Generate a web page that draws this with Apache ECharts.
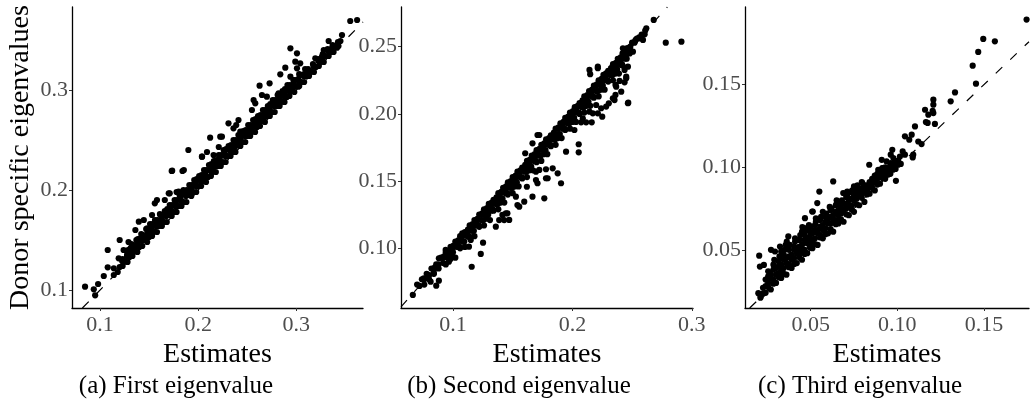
<!DOCTYPE html>
<html>
<head>
<meta charset="utf-8">
<script src="https://cdn.jsdelivr.net/npm/echarts@6/dist/echarts.min.js"></script>
<style>
  html, body { margin: 0; padding: 0; background: #fff; }
  #chart { width: 1031px; height: 400px; }
</style>
</head>
<body>
<div id="chart"></div>
<script>
// ---- data: [estimate, donor specific value] ----
var firstBand = [
  [0.118,0.118],[0.123,0.124],[0.128,0.128],[0.133,0.134],[0.138,0.138],[0.143,0.144],[0.148,0.148],[0.153,0.154],
  [0.158,0.158],[0.163,0.164],[0.168,0.168],[0.173,0.174],[0.178,0.178],[0.183,0.184],[0.188,0.188],[0.193,0.194],
  [0.198,0.198],[0.203,0.204],[0.208,0.208],[0.213,0.214],[0.218,0.218],[0.223,0.224],[0.228,0.228],[0.233,0.234],
  [0.238,0.238],[0.243,0.244],[0.248,0.248],[0.253,0.254],[0.258,0.258],[0.263,0.264],[0.268,0.268],[0.273,0.274],
  [0.278,0.278],[0.283,0.284],[0.288,0.288],[0.293,0.294],[0.298,0.298],[0.303,0.304],[0.308,0.308],[0.313,0.314],
  [0.318,0.318],[0.323,0.324],[0.328,0.328],[0.333,0.334],[0.338,0.338],[0.343,0.344],
  [0.120,0.123],[0.125,0.129],[0.130,0.133],[0.135,0.140],[0.140,0.143],[0.145,0.150],[0.150,0.153],[0.155,0.159],
  [0.160,0.164],[0.165,0.168],[0.170,0.175],[0.175,0.178],[0.180,0.184],[0.185,0.188],[0.190,0.195],[0.195,0.198],
  [0.200,0.204],[0.205,0.209],[0.210,0.213],[0.215,0.219],[0.220,0.224],[0.225,0.228],[0.230,0.234],[0.235,0.238],
  [0.240,0.245],[0.245,0.248],[0.250,0.254],[0.255,0.259],[0.260,0.263],[0.265,0.269],[0.270,0.274],[0.275,0.278],
  [0.280,0.284],[0.285,0.289],[0.290,0.293],[0.295,0.299],[0.300,0.304],[0.305,0.308],[0.310,0.314],[0.315,0.319],
  [0.320,0.323],[0.325,0.329],[0.330,0.334],[0.335,0.338],[0.340,0.344],[0.345,0.349],
  [0.123,0.131],[0.128,0.137],[0.133,0.141],[0.138,0.147],[0.143,0.152],[0.148,0.156],[0.152,0.162],[0.157,0.166],
  [0.163,0.171],[0.167,0.177],[0.172,0.181],[0.177,0.186],[0.182,0.191],[0.188,0.196],[0.193,0.202],[0.197,0.207],
  [0.202,0.211],[0.207,0.216],[0.213,0.221],[0.218,0.227],[0.222,0.232],[0.227,0.236],[0.233,0.241],[0.238,0.247],
  [0.243,0.252],[0.248,0.256],[0.253,0.262],[0.258,0.267],[0.262,0.272],[0.268,0.276],[0.273,0.282],[0.277,0.287],
  [0.283,0.291],[0.288,0.297],[0.292,0.302],[0.297,0.306],[0.302,0.311],[0.308,0.316],[0.312,0.321],[0.317,0.326],
  [0.323,0.331],[0.327,0.336],[0.332,0.341],[0.337,0.345],
  [0.132,0.146],[0.137,0.150],[0.142,0.156],[0.147,0.161],[0.151,0.166],[0.156,0.170],[0.161,0.176],[0.166,0.179],
  [0.171,0.185],[0.176,0.190],[0.181,0.195],[0.186,0.199],[0.191,0.205],[0.196,0.210],[0.201,0.214],[0.206,0.220],
  [0.211,0.225],[0.216,0.229],[0.221,0.235],[0.226,0.240],[0.231,0.244],[0.236,0.250],[0.241,0.255],[0.246,0.259],
  [0.251,0.265],[0.256,0.270],[0.261,0.274],[0.266,0.280],[0.271,0.284],[0.276,0.290],[0.281,0.295],[0.286,0.299],
  [0.291,0.305],[0.297,0.310],[0.303,0.316],[0.309,0.321]
];
var firstFill = [
  [0.1225,0.129],[0.1275,0.134],[0.1325,0.138],[0.1375,0.144],[0.1425,0.149],[0.1475,0.153],[0.1525,0.159],
  [0.1575,0.164],[0.1625,0.168],[0.1675,0.174],[0.1725,0.179],[0.1775,0.183],[0.1825,0.189],[0.1875,0.194],
  [0.1925,0.198],[0.1975,0.204],[0.2025,0.209],[0.2075,0.213],[0.2125,0.219],[0.2175,0.224],[0.2225,0.228],
  [0.2275,0.234],[0.2325,0.239],[0.2375,0.243],[0.2425,0.249],[0.2475,0.254],[0.2525,0.258],[0.2575,0.264],
  [0.2625,0.269],[0.2675,0.273],[0.2725,0.279],[0.2775,0.284],[0.2825,0.288],[0.2875,0.294],[0.2925,0.299],
  [0.2975,0.303],[0.3025,0.309],[0.3075,0.314],[0.3125,0.318],[0.3175,0.324],[0.3225,0.329],[0.3275,0.333],
  [0.3325,0.339],[0.3375,0.344],[0.3425,0.348],
  [0.1285,0.140],[0.1335,0.145],[0.1385,0.151],[0.1435,0.155],[0.1485,0.160],[0.1535,0.166],[0.1585,0.170],
  [0.1635,0.175],[0.1685,0.181],[0.1735,0.185],[0.1785,0.190],[0.1835,0.196],[0.1885,0.200],[0.1935,0.205],
  [0.1985,0.211],[0.2035,0.215],[0.2085,0.220],[0.2135,0.226],[0.2185,0.230],[0.2235,0.235],[0.2285,0.241],
  [0.2335,0.245],[0.2385,0.250],[0.2435,0.256],[0.2485,0.260],[0.2535,0.265],[0.2585,0.271],[0.2635,0.275],
  [0.2685,0.280],[0.2735,0.286],[0.2785,0.290],[0.2835,0.295],[0.2885,0.301],[0.2935,0.305],[0.2985,0.310],
  [0.3035,0.315]
];
var firstOut = [
  [0.0847,0.1033],[0.098,0.106],[0.0936,0.1007],[0.095,0.0947],[0.1038,0.114],[0.1078,0.1227],[0.114,0.1217],
  [0.114,0.115],[0.1078,0.140],[0.120,0.150],[0.119,0.1317],[0.124,0.140],[0.129,0.148],[0.131,0.1417],
  [0.1276,0.135],[0.134,0.138],[0.136,0.160],[0.1395,0.1683],[0.1446,0.170],[0.141,0.1517],[0.148,0.1617],
  [0.153,0.175],[0.1558,0.1867],[0.1615,0.175],[0.1548,0.165],[0.170,0.1967],[0.1735,0.2193],[0.1854,0.220],
  [0.180,0.1983],[0.190,0.240],[0.194,0.1967],[0.204,0.2333],[0.158,0.190],[0.166,0.190],[0.171,0.1967],
  [0.178,0.198],[0.185,0.200],[0.173,0.219],[0.184,0.219],[0.209,0.238],[0.221,0.243],[0.2157,0.235],
  [0.236,0.2617],[0.2225,0.2533],[0.270,0.280],[0.282,0.2967],[0.2905,0.2933],[0.302,0.3033],[0.299,0.3283],
  [0.355,0.369],[0.362,0.370],[0.3466,0.355],[0.333,0.349],[0.3415,0.3423],[0.328,0.340],[0.3364,0.3417],
  [0.294,0.3417],[0.3007,0.3367],[0.3194,0.3317],[0.3262,0.3333],[0.304,0.3267],[0.2888,0.3223],[0.2837,0.3157],
  [0.3007,0.3217],[0.294,0.3133],[0.2728,0.3067],[0.2626,0.3043],[0.2565,0.290],[0.2582,0.2867],[0.2548,0.280],
  [0.265,0.295],[0.270,0.2933],[0.2309,0.2667],[0.2411,0.270],[0.2388,0.265],[0.2122,0.2523],[0.2242,0.2533],
  [0.2038,0.2333],[0.2429,0.2583]
];

var secondBand = [
  [0.070,0.073],[0.074,0.077],[0.078,0.081],[0.082,0.085],[0.086,0.088],[0.090,0.093],[0.094,0.097],[0.098,0.101],
  [0.102,0.105],[0.106,0.109],[0.110,0.112],[0.114,0.117],[0.118,0.121],[0.122,0.125],[0.126,0.129],[0.130,0.133],
  [0.134,0.136],[0.138,0.141],[0.142,0.145],[0.146,0.149],[0.150,0.153],[0.154,0.157],[0.158,0.160],[0.162,0.165],
  [0.166,0.169],[0.170,0.173],[0.174,0.177],[0.178,0.181],[0.182,0.184],[0.186,0.189],[0.190,0.193],[0.194,0.197],
  [0.198,0.201],[0.202,0.205],[0.206,0.208],[0.210,0.213],[0.214,0.217],[0.218,0.221],[0.222,0.225],[0.226,0.229],
  [0.230,0.232],[0.234,0.237],[0.238,0.241],[0.242,0.245],[0.246,0.249],[0.250,0.253],[0.254,0.256],[0.258,0.259],
  [0.076,0.073],[0.080,0.077],[0.084,0.081],[0.088,0.085],[0.092,0.089],[0.096,0.093],[0.100,0.097],[0.104,0.101],
  [0.108,0.105],[0.112,0.109],[0.116,0.113],[0.120,0.117],[0.124,0.121],[0.128,0.125],[0.132,0.128],[0.136,0.133],
  [0.140,0.137],[0.144,0.141],[0.148,0.145],[0.152,0.149],[0.156,0.153],[0.160,0.157],[0.164,0.161],[0.168,0.165],
  [0.172,0.169],[0.176,0.173],[0.180,0.177],[0.184,0.181],[0.188,0.185],[0.192,0.189],[0.196,0.193],[0.200,0.197],
  [0.204,0.201],[0.208,0.205],[0.212,0.209],[0.216,0.213],[0.220,0.217],[0.224,0.221],[0.228,0.225],[0.232,0.229],
  [0.236,0.233],[0.240,0.237],[0.244,0.241],[0.248,0.245],
  [0.102,0.093],[0.110,0.101],[0.118,0.109],[0.126,0.117],[0.131,0.121],[0.138,0.129],[0.143,0.134],[0.150,0.141],
  [0.155,0.146],[0.162,0.153],[0.167,0.158],[0.174,0.165],[0.179,0.170],[0.186,0.177],[0.191,0.182],[0.198,0.189],
  [0.203,0.194],[0.210,0.201],[0.215,0.206],[0.222,0.213],[0.227,0.218],[0.234,0.225],[0.239,0.230]
];
var secondFill = [
  [0.072,0.072],[0.076,0.077],[0.080,0.080],[0.084,0.084],[0.088,0.088],[0.092,0.093],[0.096,0.096],[0.100,0.100],
  [0.104,0.104],[0.108,0.109],[0.112,0.112],[0.116,0.116],[0.120,0.120],[0.124,0.125],[0.128,0.128],[0.132,0.132],
  [0.136,0.136],[0.140,0.141],[0.144,0.144],[0.148,0.148],[0.152,0.152],[0.156,0.157],[0.160,0.160],[0.164,0.164],
  [0.168,0.168],[0.172,0.173],[0.176,0.176],[0.180,0.180],[0.184,0.184],[0.188,0.189],[0.192,0.192],[0.196,0.196],
  [0.200,0.200],[0.204,0.205],[0.208,0.208],[0.212,0.212],[0.216,0.216],[0.220,0.221],[0.224,0.224],[0.228,0.228],
  [0.232,0.232],[0.236,0.237],[0.240,0.240],[0.244,0.244],[0.248,0.248],[0.252,0.253],[0.256,0.257],[0.261,0.262],
  [0.094,0.088],[0.098,0.092],[0.106,0.100],[0.114,0.108],[0.122,0.116],[0.128,0.122],[0.134,0.128],[0.140,0.134],
  [0.146,0.140],[0.152,0.146],[0.158,0.152],[0.164,0.158],[0.170,0.164],[0.176,0.170],[0.182,0.176],[0.188,0.182],
  [0.194,0.188],[0.200,0.194],[0.206,0.200],[0.212,0.206],[0.218,0.212],[0.224,0.218],[0.230,0.224],[0.236,0.230],
  [0.242,0.236],
  [0.0925,0.094],[0.0965,0.098],[0.1005,0.102],[0.1045,0.106],[0.1085,0.110],[0.1125,0.114],[0.1165,0.118],
  [0.1205,0.122],[0.1245,0.126],[0.1285,0.130],[0.1325,0.134],[0.1365,0.138],[0.1405,0.142],[0.1445,0.146],
  [0.1485,0.150],[0.1525,0.154],[0.1565,0.158],[0.1605,0.162],[0.1645,0.166],[0.1685,0.170],[0.1725,0.174],
  [0.1765,0.178],[0.1805,0.182],[0.1845,0.186],[0.1885,0.190],[0.1925,0.194],[0.1965,0.198],[0.2005,0.202],
  [0.2045,0.206],[0.2085,0.210],[0.2125,0.214],[0.2165,0.218],[0.2205,0.222],[0.2245,0.226],[0.2285,0.230],
  [0.2325,0.234],[0.2365,0.238],[0.2405,0.242],[0.2445,0.246],[0.2485,0.250],[0.2525,0.254],
  [0.1055,0.101],[0.1095,0.105],[0.1135,0.109],[0.1175,0.113],[0.1215,0.117],[0.1255,0.121],[0.1295,0.125],
  [0.1335,0.129],[0.1375,0.133],[0.1415,0.137],[0.1455,0.141],[0.1495,0.145],[0.1535,0.149],[0.1575,0.153],
  [0.1615,0.157],[0.1655,0.161],[0.1695,0.165],[0.1735,0.169],[0.1775,0.173],[0.1815,0.177],[0.1855,0.181],
  [0.1895,0.185],[0.1935,0.189],[0.1975,0.193],[0.2015,0.197],[0.2055,0.201],[0.2095,0.205],[0.2135,0.209],
  [0.2175,0.213],[0.2215,0.217],[0.2255,0.221],[0.2295,0.225],[0.2335,0.229],[0.2375,0.233],[0.2415,0.237],
  [0.2455,0.241]
];
var secondOut = [
  [0.0664,0.0653],[0.0756,0.0777],[0.0813,0.0752],[0.086,0.0722],[0.0882,0.0759],[0.084,0.0814],[0.0849,0.0859],
  [0.0882,0.0926],[0.0939,0.0938],[0.0966,0.090],[0.0939,0.0988],[0.0994,0.095],[0.1157,0.0863],[0.1233,0.0958],
  [0.1252,0.1042],[0.1134,0.1012],[0.1149,0.1062],[0.1065,0.1074],[0.1078,0.1112],[0.1359,0.1161],[0.1387,0.121],
  [0.1429,0.121],[0.1414,0.1248],[0.1456,0.126],[0.154,0.1322],[0.1597,0.1347],[0.1555,0.131],[0.1619,0.1458],
  [0.1695,0.1508],[0.1708,0.1484],[0.1765,0.1372],[0.1779,0.1521],[0.1779,0.1588],[0.1695,0.157],[0.1708,0.1843],
  [0.1666,0.1781],[0.1605,0.1707],[0.1905,0.1484],[0.1877,0.1558],[0.1793,0.1521],[0.1835,0.1595],[0.1723,0.1583],
  [0.1666,0.1384],[0.1527,0.1384],[0.1443,0.126],[0.1471,0.1211],
  [0.2913,0.2537],[0.2782,0.2530],[0.2681,0.2699],[0.2619,0.2637],[0.2605,0.2592],[0.2563,0.2562],[0.253,0.255],
  [0.2591,0.255],[0.2423,0.2488],[0.2479,0.2475],[0.2451,0.2438],[0.2507,0.2463],[0.2395,0.2401],[0.2409,0.2364],
  [0.2367,0.2339],[0.2325,0.2339],[0.2311,0.2314],[0.2283,0.2302],[0.2143,0.2327],[0.2213,0.2351],[0.2149,0.2295],
  [0.2465,0.2351],[0.2451,0.2277],[0.2437,0.2235],[0.2395,0.2245],[0.2367,0.2202],[0.2361,0.2141],[0.2339,0.2116],
  [0.2305,0.2079],[0.2465,0.2079],[0.2241,0.2042],[0.2199,0.2066],[0.2171,0.2004],[0.2143,0.2016],[0.2213,0.2004],
  [0.225,0.1979],[0.2073,0.1937],[0.2115,0.1937],[0.2162,0.1937],[0.2087,0.1967],[0.2017,0.188],[0.2053,0.1774],
  [0.2053,0.1714],[0.1947,0.1719],[0.1723,0.1843],[0.2283,0.2054],[0.2353,0.2103],[0.2468,0.2083],[0.2409,0.2165],
  [0.2451,0.2265],[0.2361,0.2215],[0.2437,0.2327],[0.2213,0.234]
];

var thirdBand = [
  [0.021,0.021],[0.024,0.024],[0.027,0.026],[0.030,0.030],[0.033,0.033],[0.036,0.035],[0.039,0.039],[0.042,0.042],
  [0.045,0.044],[0.048,0.048],[0.051,0.051],[0.054,0.053],[0.057,0.057],[0.060,0.060],[0.063,0.061],[0.066,0.066],
  [0.069,0.067],[0.072,0.071],[0.075,0.073],[0.078,0.077],[0.081,0.079],[0.084,0.084],[0.087,0.086],[0.090,0.090],
  [0.093,0.093],[0.096,0.096],[0.099,0.099],[0.102,0.102],
  [0.0225,0.027],[0.0255,0.030],[0.0285,0.032],[0.0315,0.036],[0.0345,0.039],[0.0375,0.041],[0.0405,0.045],
  [0.0435,0.048],[0.0465,0.050],[0.0495,0.054],[0.0525,0.057],[0.0555,0.059],[0.0585,0.063],[0.0615,0.066],
  [0.0645,0.068],[0.0675,0.072],[0.0705,0.075],[0.0735,0.077],[0.0765,0.081],[0.0795,0.084],[0.0825,0.086],
  [0.0855,0.090],[0.0885,0.093],[0.0915,0.095],[0.0945,0.099],[0.0975,0.102],[0.1005,0.104],
  [0.024,0.032],[0.027,0.035],[0.030,0.039],[0.033,0.041],[0.036,0.045],[0.039,0.047],[0.042,0.051],[0.045,0.053],
  [0.048,0.056],[0.051,0.060],[0.054,0.062],[0.057,0.065],[0.060,0.069],[0.063,0.071],[0.066,0.074],[0.069,0.078],
  [0.072,0.080],[0.075,0.083],[0.078,0.087],[0.081,0.089],[0.084,0.091],[0.087,0.095],[0.090,0.097],[0.093,0.100],
  [0.0255,0.037],[0.0285,0.041],[0.0315,0.043],[0.0345,0.047],[0.0375,0.050],[0.0405,0.052],[0.0435,0.056],
  [0.0465,0.059],[0.0495,0.061],[0.0525,0.065],[0.0555,0.068],[0.0585,0.070],[0.0615,0.074],[0.0645,0.077],
  [0.0675,0.079],[0.0705,0.082],[0.0735,0.085],[0.0765,0.087],[0.0795,0.091],
  [0.033,0.049],[0.037,0.053],[0.041,0.057],[0.045,0.061],[0.049,0.065],[0.053,0.069],[0.057,0.073],[0.061,0.076],
  [0.065,0.080]
];
var thirdFill = [
  [0.0225,0.0235],[0.0255,0.0275],[0.0285,0.0295],[0.0315,0.0335],[0.0345,0.0355],[0.0375,0.0395],[0.0405,0.0415],
  [0.0435,0.0455],[0.0465,0.0475],[0.0495,0.0515],[0.0525,0.0535],[0.0555,0.0575],[0.0585,0.0595],[0.0615,0.0625],
  [0.0645,0.0655],[0.0675,0.0685],[0.0705,0.0715],[0.0735,0.0745],[0.0765,0.0775],[0.0795,0.0815],[0.0825,0.0835],
  [0.0855,0.0875],[0.0885,0.0895],[0.0915,0.0935],[0.0945,0.0955],[0.0975,0.0985],[0.1005,0.1015],
  [0.024,0.028],[0.027,0.033],[0.030,0.035],[0.033,0.038],[0.036,0.042],[0.039,0.044],[0.042,0.048],[0.045,0.050],
  [0.048,0.054],[0.051,0.056],[0.054,0.060],[0.057,0.062],[0.060,0.066],[0.063,0.068],[0.066,0.071],[0.069,0.074],
  [0.072,0.077],[0.075,0.080],[0.078,0.083],[0.081,0.086],[0.084,0.088],[0.087,0.091],[0.090,0.094],[0.093,0.097],
  [0.096,0.100],[0.099,0.102],
  [0.0255,0.034],[0.0285,0.038],[0.0315,0.040],[0.0345,0.044],[0.0375,0.046],[0.0405,0.050],[0.0435,0.052],
  [0.0465,0.056],[0.0495,0.058],[0.0525,0.062],[0.0555,0.064],[0.0585,0.067],[0.0615,0.070],[0.0645,0.073],
  [0.0675,0.076],[0.0705,0.078],[0.0735,0.081],[0.0765,0.084],[0.0795,0.087],[0.0825,0.089],[0.0855,0.093],
  [0.0885,0.096],
  [0.029,0.044],[0.032,0.046],[0.035,0.050],[0.038,0.053],[0.041,0.055],[0.044,0.059],[0.047,0.062],[0.050,0.064],
  [0.053,0.067],[0.056,0.070],[0.059,0.072],[0.062,0.075],[0.065,0.078],[0.068,0.080],[0.071,0.083],[0.074,0.086],
  [0.077,0.089]
];
var thirdOut = [
  [0.1746,0.1894],[0.1496,0.1777],[0.1563,0.1762],[0.1467,0.1698],[0.1435,0.1615],[0.1454,0.1506],[0.1333,0.1453],
  [0.1308,0.1399],[0.1208,0.1409],[0.1208,0.1379],[0.1204,0.1342],[0.116,0.1348],[0.1179,0.1318],[0.1208,0.1328],
  [0.1165,0.1274],[0.1175,0.1268],[0.1217,0.1262],[0.1102,0.1247],[0.1044,0.1187],[0.1083,0.1197],[0.1069,0.1167],
  [0.1121,0.1156],[0.114,0.114],[0.1092,0.1076],[0.1089,0.1059],[0.0971,0.1106],[0.1031,0.1096],[0.1044,0.1076],
  [0.1015,0.1065],[0.0910,0.1045],[0.0938,0.1035],[0.0977,0.1056],[0.0996,0.1035],[0.0958,0.1005],[0.0919,0.0995],
  [0.089,0.0985],[0.0838,0.1015],[0.0992,0.0918],[0.063,0.0914],[0.055,0.0853],[0.0512,0.0732],[0.0467,0.0692],
  [0.0477,0.0632],[0.0457,0.0632],[0.0203,0.0465],[0.0207,0.0399],[0.023,0.0409],[0.0271,0.05],[0.0294,0.049],
  [0.0323,0.052],[0.0371,0.0581],[0.0362,0.055],[0.0198,0.0238],[0.0212,0.0217],[0.0356,0.053],[0.0452,0.0638],
  [0.0509,0.0732],[0.0538,0.0783],[0.0688,0.0844],[0.0711,0.0853],[0.075,0.0884],[0.0779,0.0868],[0.0798,0.0904],
  [0.0913,0.0995],[0.0894,0.0974],[0.0962,0.1076],[0.0962,0.1025]
];

// axis ranges and tick labels
var rangeA = { x: [0.0714, 0.368], y: [0.082, 0.383] };
var rangeB = { x: [0.0565, 0.301], y: [0.0556, 0.2795] };
var rangeC = { x: [0.0121, 0.176], y: [0.0148, 0.197] };
var ticksAx = [0.1, 0.2, 0.3], ticksAy = [0.1, 0.2, 0.3];
var ticksBx = [0.1, 0.2, 0.3], ticksBy = [0.10, 0.15, 0.20, 0.25];
var ticksCx = [0.05, 0.10, 0.15], ticksCy = [0.05, 0.10, 0.15];
// y = x reference line ends
var diagA = [0.082, 0.368], diagB = [0.0565, 0.2795], diagC = [0.0148, 0.176];
var captions = ['(a) First eigenvalue', '(b) Second eigenvalue', '(c) Third eigenvalue'];

var FONT = 'Liberation Serif';

function xAxisFor(i, range, ticks, dec) {
    return {
        type: 'value', gridIndex: i, min: range[0], max: range[1],
        splitLine: { show: false },
        axisLine: { onZero: false, lineStyle: { color: '#000', width: 1.3 } },
        axisTick: { customValues: ticks, length: 3, lineStyle: { color: '#333' } },
        axisLabel: { customValues: ticks, margin: 6, color: '#4d4d4d', fontFamily: FONT, fontSize: 22,
            formatter: function (v) { return v.toFixed(dec); } },
        name: 'Estimates', nameLocation: 'middle', nameGap: 23,
        nameTextStyle: { color: '#000', fontFamily: FONT, fontSize: 28 }
    };
}
function yAxisFor(i, range, ticks, dec, name) {
    return {
        type: 'value', gridIndex: i, min: range[0], max: range[1],
        splitLine: { show: false },
        axisLine: { onZero: false, lineStyle: { color: '#000', width: 1.3 } },
        axisTick: { customValues: ticks, length: 3, lineStyle: { color: '#333' } },
        axisLabel: { customValues: ticks, margin: 4, color: '#4d4d4d', fontFamily: FONT, fontSize: 22,
            formatter: function (v) { return v.toFixed(dec); } },
        name: name, nameLocation: 'middle', nameGap: 37,
        nameTextStyle: { color: '#000', fontFamily: FONT, fontSize: 28 }
    };
}
function dots(i, data) {
    return { type: 'scatter', xAxisIndex: i, yAxisIndex: i, data: data, symbolSize: 6.2,
        itemStyle: { color: '#000', opacity: 1 }, silent: true, z: 3, large: false };
}
function diag(i, ends) {
    return { type: 'line', xAxisIndex: i, yAxisIndex: i, symbol: 'none', silent: true, z: 2,
        data: [[ends[0], ends[0]], [ends[1], ends[1]]],
        lineStyle: { color: '#000', width: 1.2, type: [9, 11] } };
}

var chart = echarts.init(document.getElementById('chart'), null, { renderer: 'canvas' });
chart.setOption({
    animation: false,
    backgroundColor: '#fff',
    grid: [
        { left: 72, top: 7, width: 291, height: 301, outerBoundsMode: 'none' },
        { left: 401, top: 7, width: 292, height: 301, outerBoundsMode: 'none' },
        { left: 745, top: 7, width: 284, height: 301, outerBoundsMode: 'none' }
    ],
    xAxis: [
        xAxisFor(0, rangeA.x, ticksAx, 1),
        xAxisFor(1, rangeB.x, ticksBx, 1),
        xAxisFor(2, rangeC.x, ticksCx, 2)
    ],
    yAxis: [
        yAxisFor(0, rangeA.y, ticksAy, 1, 'Donor specific eigenvalues'),
        yAxisFor(1, rangeB.y, ticksBy, 2, ''),
        yAxisFor(2, rangeC.y, ticksCy, 2, '')
    ],
    series: [
        dots(0, firstBand.concat(firstFill, firstOut)),
        dots(1, secondBand.concat(secondFill, secondOut)),
        dots(2, thirdBand.concat(thirdFill, thirdOut)),
        diag(0, diagA), diag(1, diagB), diag(2, diagC)
    ],
    graphic: [
        { type: 'text', x: 176, y: 386, style: { text: captions[0], align: 'center', verticalAlign: 'middle', font: '25px "Liberation Serif"', fill: '#000' } },
        { type: 'text', x: 519, y: 386, style: { text: captions[1], align: 'center', verticalAlign: 'middle', font: '25px "Liberation Serif"', fill: '#000' } },
        { type: 'text', x: 860, y: 386, style: { text: captions[2], align: 'center', verticalAlign: 'middle', font: '25px "Liberation Serif"', fill: '#000' } }
    ]
});
</script>
</body>
</html>
